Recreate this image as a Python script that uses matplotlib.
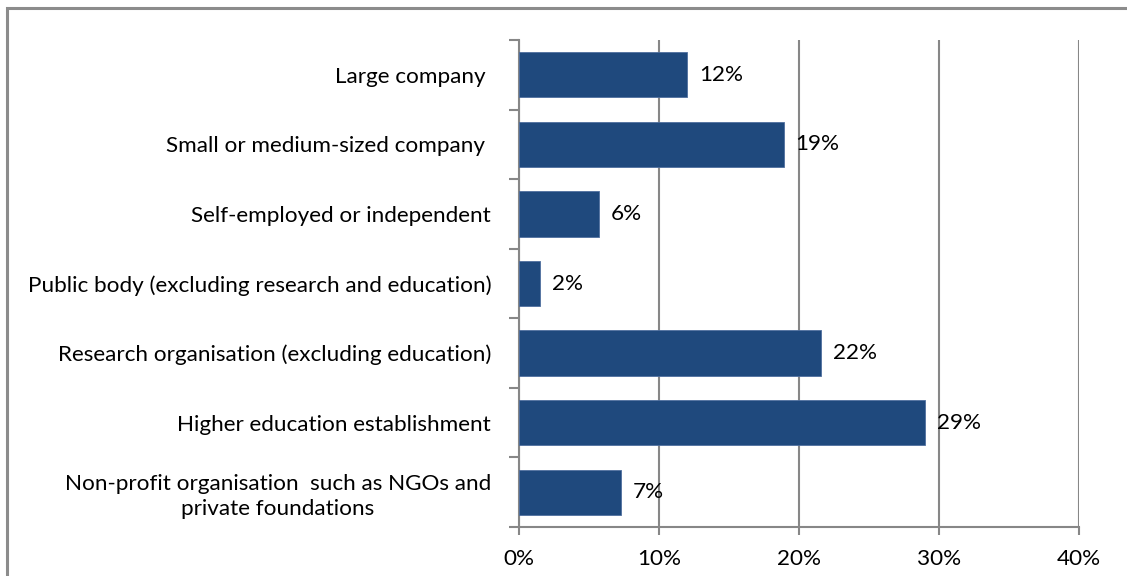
import matplotlib.pyplot as plt
from matplotlib.patches import Rectangle

# categories top to bottom
categories = ['Large company ',
              'Small or medium-sized company ',
              'Self-employed or independent',
              'Public body (excluding research and education)',
              'Research organisation (excluding education)',
              'Higher education establishment',
              'Non-profit organisation  such as NGOs and\nprivate foundations']
values = [12.0, 18.9, 5.7, 1.5, 21.6, 29.0, 7.3]
value_labels = ['12%', '19%', '6%', '2%', '22%', '29%', '7%']
xticks = [0, 10, 20, 30, 40]
xtick_labels = ['0%', '10%', '20%', '30%', '40%']

plt.rcParams['font.family'] = ['Lato', 'DejaVu Sans']
W, H = 1127, 576
fig = plt.figure(figsize=(W / 100, H / 100), dpi=100)
ax = fig.add_axes([519 / W, 1 - 527 / H, (1079 - 519) / W, (527 - 40) / H])

grey = '#878787'
bar_color = '#1F497D'
fs = 16.2
n = len(categories)
ypos = list(range(n))
ax.barh(ypos, values, height=0.65, color=bar_color, edgecolor='#4F6F9F',
        linewidth=0.6, zorder=3)
for y, v, lab in zip(ypos, values, value_labels):
    ax.text(v + 0.85, y, lab, va='center', ha='left', fontsize=fs, color='black')

ax.set_xlim(0, 40)
ax.set_ylim(n - 0.5, -0.5)
ax.set_xticks(xticks)
ax.set_xticklabels(xtick_labels, fontsize=fs)
ax.set_yticks([y - 0.5 for y in range(n + 1)], minor=False)
ax.set_yticklabels([])
ax.set_yticks(ypos, minor=True)
ax.set_yticklabels(categories, minor=True, fontsize=fs, multialignment='center',
                   linespacing=1.3)
ax.tick_params(axis='y', which='minor', length=0, pad=20)
ax.tick_params(axis='y', which='major', length=7, color=grey, width=1.5)
ax.tick_params(axis='x', length=6, color=grey, width=1.5, pad=10)

ax.grid(axis='x', color=grey, linewidth=1.5, zorder=0)
for side in ['top', 'right']:
    ax.spines[side].set_visible(False)
for side in ['left', 'bottom']:
    ax.spines[side].set_color(grey)
    ax.spines[side].set_linewidth(1.5)

# outer frame of the chart area
fig.patches.append(Rectangle((7 / W, -0.1), 1.2, 1 - 8 / H + 0.1,
                             transform=fig.transFigure, fill=False,
                             edgecolor='#8c8c8c', linewidth=2.2))

fig.savefig('out.png', dpi=100)
